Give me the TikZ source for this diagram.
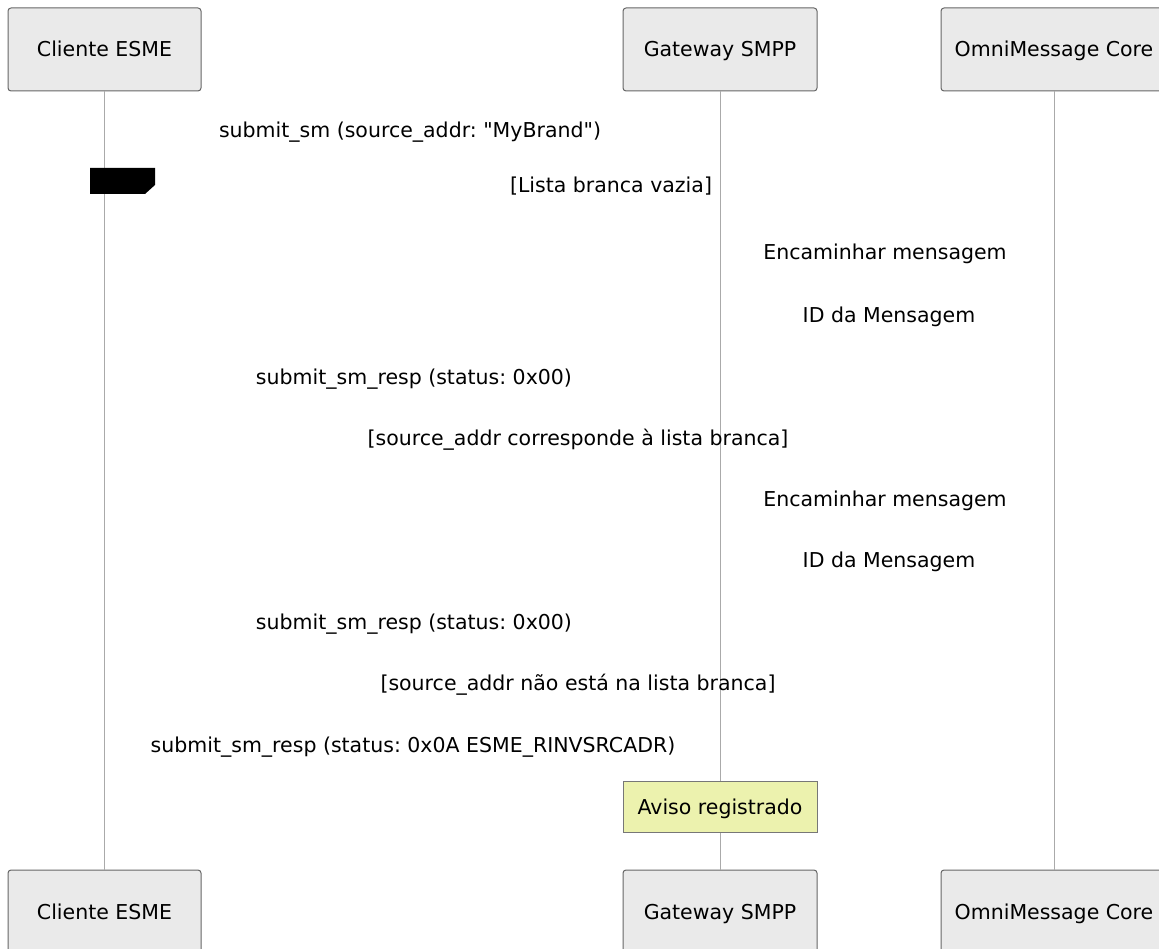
\documentclass[tikz,border=0pt]{standalone}
\usepackage{fontspec}
\setmainfont{DejaVu Sans}[Ligatures=TeXOff]
\frenchspacing
\definecolor{actfill}{HTML}{EAEAEA}
\definecolor{actdraw}{HTML}{666666}
\definecolor{lifecol}{HTML}{AAAAAA}
\definecolor{notefill}{HTML}{ECF2AE}
\definecolor{notedraw}{HTML}{777777}
\begin{document}
\begin{tikzpicture}[x=1pt,y=-1pt,
  txt/.style={font=\fontsize{20.5}{24}\selectfont,text height=17pt,text depth=2pt},
  actor/.style={txt,draw=actdraw,fill=actfill,rounded corners=3pt,line width=1pt,minimum height=83pt,inner sep=0pt},
  life/.style={draw=lifecol,line width=1pt},
  msg/.style={txt,inner sep=0pt},
  notebox/.style={txt,draw=notedraw,fill=notefill,line width=1pt,minimum width=194pt,minimum height=51pt,inner sep=0pt}]
\useasboundingbox (0,0) rectangle (1159,949);
\clip (0,0) rectangle (1159,949);
% actors top
\node[actor,minimum width=193pt] (c1t) at (104.5,49.5) {Cliente ESME};
\node[actor,minimum width=194pt] (c2t) at (720,49.5) {Gateway SMPP};
\node[actor,minimum width=226pt] (c3t) at (1054,49.5) {OmniMessage Core};
% actors bottom
\node[actor,minimum width=193pt] (c1b) at (104.5,911.5) {Cliente ESME};
\node[actor,minimum width=194pt] (c2b) at (720,911.5) {Gateway SMPP};
\node[actor,minimum width=226pt] (c3b) at (1054,911.5) {OmniMessage Core};
% lifelines
\draw[life] (c1t.south) -- (c1b.north);
\draw[life] (c2t.south) -- (c2b.north);
\draw[life] (c3t.south) -- (c3b.north);
% alt label shape
\fill[black] (90,168) -- (155,168) -- (155,185) -- (145,194) -- (90,194) -- cycle;
% messages
\node[msg] (m1) at (410,130) {submit\_sm (source\_addr: "MyBrand")};
\node[msg] (g1) at (611,185) {[Lista branca vazia]};
\node[msg] (m2) at (885,252) {Encaminhar mensagem};
\node[msg] (m3) at (889,315) {ID da Mensagem};
\node[msg] (m4) at (414,377) {submit\_sm\_resp (status: 0x00)};
\node[msg] (g2) at (578,438) {[source\_addr corresponde à lista branca]};
\node[msg] (m5) at (885,499) {Encaminhar mensagem};
\node[msg] (m6) at (889,560) {ID da Mensagem};
\node[msg] (m7) at (414,622) {submit\_sm\_resp (status: 0x00)};
\node[msg] (g3) at (578,683) {[source\_addr não está na lista branca]};
\node[msg] (m8) at (413,745) {submit\_sm\_resp (status: 0x0A ESME\_RINVSRCADR)};
% note
\node[notebox] (n1) at (720,806.5) {Aviso registrado};
\end{tikzpicture}
\end{document}
